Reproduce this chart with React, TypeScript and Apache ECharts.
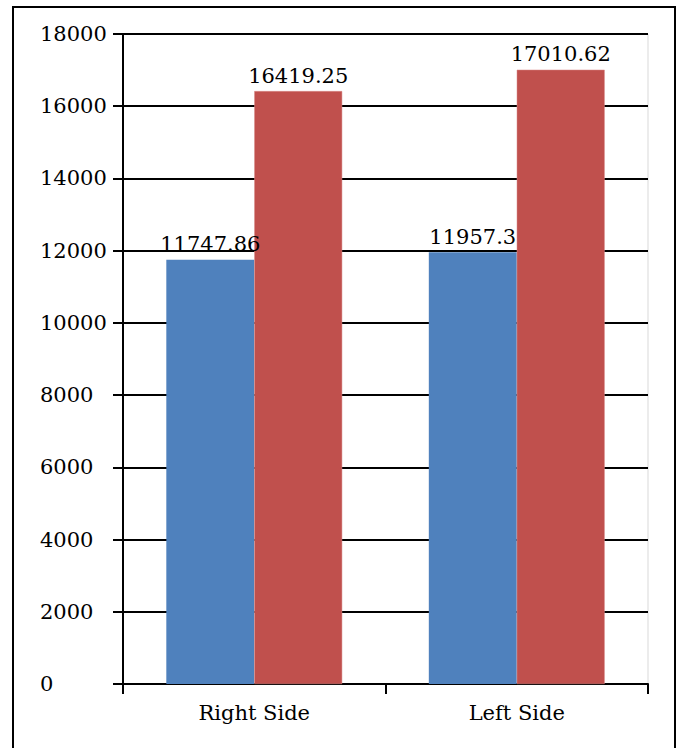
import React, { useEffect, useRef } from "react";
import * as echarts from "echarts";

const categories = ["Right Side", "Left Side"];
const seriesA = [11747.86, 11957.3];
const seriesB = [16419.25, 17010.62];
const yTicks = { min: 0, max: 18000, interval: 2000 };

const FONT = "DejaVu Serif";

export default function App() {
  const ref = useRef<HTMLDivElement>(null);
  useEffect(() => {
    if (!ref.current) return;
    const chart = echarts.init(ref.current, null, { renderer: "svg" });
    chart.setOption({
      animation: false,
      backgroundColor: "#ffffff",
      grid: { left: 123, right: 43, top: 34, bottom: 64, containLabel: false },
      xAxis: {
        type: "category",
        data: categories,
        axisLine: { lineStyle: { color: "#000", width: 2 } },
        axisTick: { show: true, length: 10, lineStyle: { color: "#000", width: 2 } },
        axisLabel: { color: "#000", fontFamily: FONT, fontSize: 21, margin: 18 },
      },
      yAxis: {
        type: "value",
        min: yTicks.min,
        max: yTicks.max,
        interval: yTicks.interval,
        axisLine: { show: true, lineStyle: { color: "#000", width: 2 } },
        axisTick: { show: true, length: 10, lineStyle: { color: "#000", width: 2 } },
        axisLabel: {
          color: "#000",
          fontFamily: FONT,
          fontSize: 21,
          margin: 83,
          align: "left",
          formatter: (v: number) => String(v),
        },
        splitLine: { show: true, lineStyle: { color: "#000", width: 2 } },
      },
      graphic: [
        {
          type: "rect",
          shape: { x: 13, y: 7, width: 662, height: 800 },
          style: { fill: "none", stroke: "#000", lineWidth: 2 },
          silent: true,
          z: 100,
        },
        {
          type: "line",
          shape: { x1: 648, y1: 34, x2: 648, y2: 684 },
          style: { stroke: "#d9d9d9", lineWidth: 1 },
          silent: true,
        },
      ],
      series: [
        {
          type: "bar",
          data: seriesA,
          barGap: "0%",
          barCategoryGap: "33%",
          itemStyle: { color: "#4F81BD" },
          label: {
            show: true,
            position: "top",
            distance: 5,
            color: "#000",
            fontFamily: FONT,
            fontSize: 21,
          },
          z: 3,
        },
        {
          type: "bar",
          data: seriesB,
          barGap: "0%",
          barCategoryGap: "33%",
          itemStyle: { color: "#C0504D", borderColor: "#D98A88", borderWidth: 0.5 },
          label: {
            show: true,
            position: "top",
            distance: 5,
            color: "#000",
            fontFamily: FONT,
            fontSize: 21,
          },
          z: 3,
        },
      ],
    });
    return () => chart.dispose();
  }, []);
  return (
    <div
      ref={ref}
      style={{ position: "fixed", left: 0, top: 0, width: 691, height: 748 }}
    />
  );
}
